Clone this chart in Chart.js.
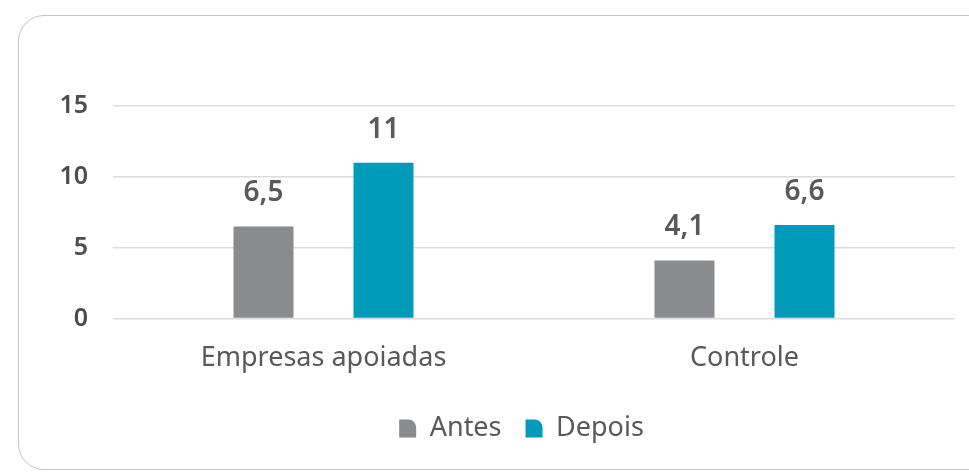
<!DOCTYPE html>
<html>
<head>
<meta charset="utf-8">
<script src="https://cdn.jsdelivr.net/npm/chart.js@4"></script>
<style>
  html, body { margin: 0; padding: 0; background: #fff; overflow: hidden; }
  body { width: 969px; height: 472px; position: relative; }
  .card {
    position: absolute; left: 18px; top: 15px; width: 1000px; height: 455px;
    border: 1px solid #c4c4c4; border-radius: 26px; box-sizing: border-box;
  }
  .wrap { position: absolute; left: 0; top: 0; width: 969px; height: 472px; }
</style>
</head>
<body>
<div class="card"></div>
<div class="wrap"><canvas id="chart"></canvas></div>
<script>
'use strict';
// data
var categories = ['Empresas apoiadas', 'Controle'];
var antes = [6.5, 4.1];
var depois = [11, 6.6];
var yTicks = [0, 5, 10, 15];

var textColor = '#58595b';
var fontFamily = '"Noto Sans", "Open Sans", sans-serif';

// draws the value above each bar, comma as decimal mark
var valueLabels = {
    id: 'valueLabels',
    afterDatasetsDraw: function(chart) {
        var ctx = chart.ctx;
        ctx.save();
        ctx.fillStyle = textColor;
        ctx.font = '600 28px ' + fontFamily;
        ctx.textAlign = 'center';
        ctx.textBaseline = 'alphabetic';
        chart.data.datasets.forEach(function(ds, i) {
            var meta = chart.getDatasetMeta(i);
            meta.data.forEach(function(bar, j) {
                var txt = String(ds.data[j]).replace('.', ',');
                ctx.fillText(txt, bar.x, bar.y - 25);
            });
        });
        ctx.restore();
    }
};

// legend sits centred under the plot, not the whole canvas
var legendShift = {
    id: 'legendShift',
    afterLayout: function(chart) {
        chart.legend.left += 44;
        chart.legend.right += 44;
    }
};

var ctx = document.getElementById('chart').getContext('2d');
new Chart(ctx, {
    type: 'bar',
    data: {
        labels: categories,
        datasets: [
            { label: 'Antes', data: antes, backgroundColor: '#8a8b8e' },
            { label: 'Depois', data: depois, backgroundColor: '#009aba' }
        ]
    },
    options: {
        responsive: true,
        maintainAspectRatio: false,
        animation: false,
        categoryPercentage: 0.57,
        barPercentage: 0.5,
        layout: { padding: { top: 106, right: 14, left: 0, bottom: 20 } },
        plugins: {
            tooltip: { enabled: false },
            legend: {
                position: 'bottom',
                labels: {
                    color: textColor,
                    font: { family: fontFamily, size: 27 },
                    boxWidth: 17,
                    boxHeight: 18,
                    padding: 24,
                    useBorderRadius: true,
                    borderRadius: { topLeft: 0, topRight: 8, bottomLeft: 0, bottomRight: 0 }
                }
            }
        },
        scales: {
            x: {
                grid: { display: false },
                border: { display: false },
                ticks: { color: textColor, font: { family: fontFamily, size: 27 }, padding: 16 }
            },
            y: {
                min: 0,
                max: 15,
                afterFit: function(scale) { scale.width = 113; },
                afterBuildTicks: function(scale) {
                    scale.ticks = yTicks.map(function(v) { return { value: v }; });
                },
                grid: { color: '#dcdcdc', lineWidth: 1.5, drawTicks: false },
                border: { display: false },
                ticks: { color: '#4d4d4f', font: { family: fontFamily, size: 25, weight: '600' }, padding: 25 }
            }
        }
    },
    plugins: [valueLabels, legendShift]
});
</script>
</body>
</html>
